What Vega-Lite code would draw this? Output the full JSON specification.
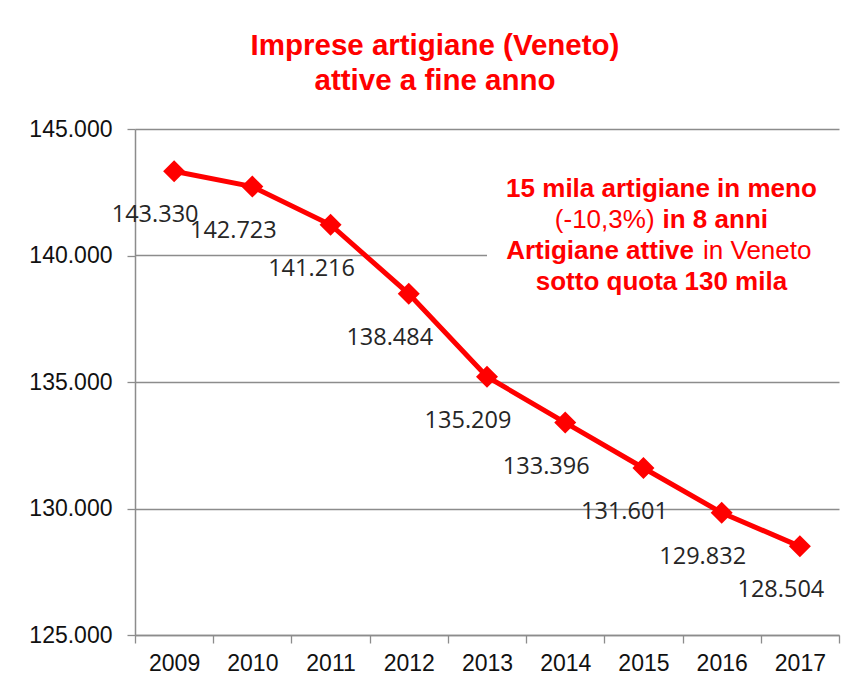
{
  "$schema": "https://vega.github.io/schema/vega-lite/v6.json",
  "width": 704,
  "height": 506,
  "autosize": {"type": "none"},
  "padding": {"left": 135, "top": 129, "right": 23, "bottom": 51},
  "background": "white",
  "config": {
    "locale": {"number": {"decimal": ",", "thousands": ".", "grouping": [3], "currency": ["", " €"]}},
    "view": {"stroke": null},
    "font": "Liberation Sans"
  },
  "title": {
    "text": ["Imprese artigiane (Veneto)", "attive a fine anno"],
    "font": "Liberation Sans",
    "fontSize": 29.5,
    "fontWeight": "bold",
    "color": "#ff0000",
    "lineHeight": 35,
    "anchor": "middle",
    "frame": "group",
    "dx": -52,
    "offset": -7,
    "baseline": "bottom"
  },
  "data": {
    "values": [
      {"anno": "2009", "imprese": 143330},
      {"anno": "2010", "imprese": 142723},
      {"anno": "2011", "imprese": 141216},
      {"anno": "2012", "imprese": 138484},
      {"anno": "2013", "imprese": 135209},
      {"anno": "2014", "imprese": 133396},
      {"anno": "2015", "imprese": 131601},
      {"anno": "2016", "imprese": 129832},
      {"anno": "2017", "imprese": 128504}
    ]
  },
  "encoding": {
    "x": {
      "field": "anno",
      "type": "ordinal",
      "scale": {"paddingInner": 0, "paddingOuter": 0},
      "axis": {
        "title": null,
        "labelAngle": 0,
        "tickBand": "extent",
        "tickSize": 8,
        "tickColor": "#8c8c8c",
        "tickWidth": 1.3,
        "domainColor": "#8c8c8c",
        "domainWidth": 1.5,
        "labelFont": "Liberation Sans",
        "labelFontSize": 23,
        "labelColor": "#111111",
        "labelPadding": 9,
        "grid": false
      }
    },
    "y": {
      "field": "imprese",
      "type": "quantitative",
      "scale": {"domain": [125000, 145000], "nice": false, "zero": false},
      "axis": {
        "title": null,
        "values": [125000, 130000, 135000, 140000, 145000],
        "format": ",d",
        "tickSize": 8,
        "tickColor": "#8c8c8c",
        "tickWidth": 1.3,
        "domainColor": "#8c8c8c",
        "domainWidth": 1.5,
        "grid": true,
        "gridColor": {"condition": {"test": "datum.value === 140000", "value": "rgba(0,0,0,0)"}, "value": "#8c8c8c"},
        "gridWidth": 1.3,
        "labelFont": "Liberation Sans",
        "labelFontSize": 23,
        "labelColor": "#111111",
        "labelPadding": 15
      }
    }
  },
  "layer": [
    {
      "data": {"values": [{"g": 140000}]},
      "mark": {"type": "rule", "color": "#8c8c8c", "strokeWidth": 1.3},
      "encoding": {
        "x": {"datum": "2009", "type": "ordinal", "bandPosition": 0},
        "x2": {"datum": "2013"},
        "y": {"field": "g", "type": "quantitative"}
      }
    },
    {
      "mark": {"type": "line", "color": "#ff0000", "strokeWidth": 5}
    },
    {
      "mark": {"type": "point", "shape": "diamond", "filled": true, "size": 484, "color": "#ff0000", "opacity": 1}
    },
    {
      "mark": {"type": "text", "font": "Open Sans", "fontSize": 23.5, "color": "#262626", "dx": -19, "dy": 44, "align": "center", "baseline": "middle"},
      "encoding": {"text": {"field": "imprese", "type": "quantitative", "format": ",d"}}
    },
    {
      "data": {"values": [{"g": 140000}]},
      "mark": {"type": "text", "text": "15 mila artigiane in meno", "font": "Liberation Sans", "fontSize": 26, "fontWeight": "bold", "color": "#ff0000", "align": "center", "baseline": "alphabetic", "dx": 18, "dy": -58.5},
      "encoding": {"x": {"datum": "2015", "type": "ordinal"}, "y": {"field": "g", "type": "quantitative"}}
    },
    {
      "data": {"values": [{"g": 140000}]},
      "mark": {"type": "text", "text": "(-10,3%)", "font": "Liberation Sans", "fontSize": 26, "fontWeight": "normal", "color": "#ff0000", "align": "right", "baseline": "alphabetic", "dx": 11.1, "dy": -27.5},
      "encoding": {"x": {"datum": "2015", "type": "ordinal"}, "y": {"field": "g", "type": "quantitative"}}
    },
    {
      "data": {"values": [{"g": 140000}]},
      "mark": {"type": "text", "text": "in 8 anni", "font": "Liberation Sans", "fontSize": 26, "fontWeight": "bold", "color": "#ff0000", "align": "left", "baseline": "alphabetic", "dx": 19.1, "dy": -27.5},
      "encoding": {"x": {"datum": "2015", "type": "ordinal"}, "y": {"field": "g", "type": "quantitative"}}
    },
    {
      "data": {"values": [{"g": 140000}]},
      "mark": {"type": "text", "text": "Artigiane attive", "font": "Liberation Sans", "fontSize": 26, "fontWeight": "bold", "color": "#ff0000", "align": "right", "baseline": "alphabetic", "dx": 50.6, "dy": 3},
      "encoding": {"x": {"datum": "2015", "type": "ordinal"}, "y": {"field": "g", "type": "quantitative"}}
    },
    {
      "data": {"values": [{"g": 140000}]},
      "mark": {"type": "text", "text": "in Veneto", "font": "Liberation Sans", "fontSize": 26, "fontWeight": "normal", "color": "#ff0000", "align": "left", "baseline": "alphabetic", "dx": 59.6, "dy": 3},
      "encoding": {"x": {"datum": "2015", "type": "ordinal"}, "y": {"field": "g", "type": "quantitative"}}
    },
    {
      "data": {"values": [{"g": 140000}]},
      "mark": {"type": "text", "text": "sotto quota 130 mila", "font": "Liberation Sans", "fontSize": 26, "fontWeight": "bold", "color": "#ff0000", "align": "center", "baseline": "alphabetic", "dx": 18, "dy": 34},
      "encoding": {"x": {"datum": "2015", "type": "ordinal"}, "y": {"field": "g", "type": "quantitative"}}
    }
  ]
}
